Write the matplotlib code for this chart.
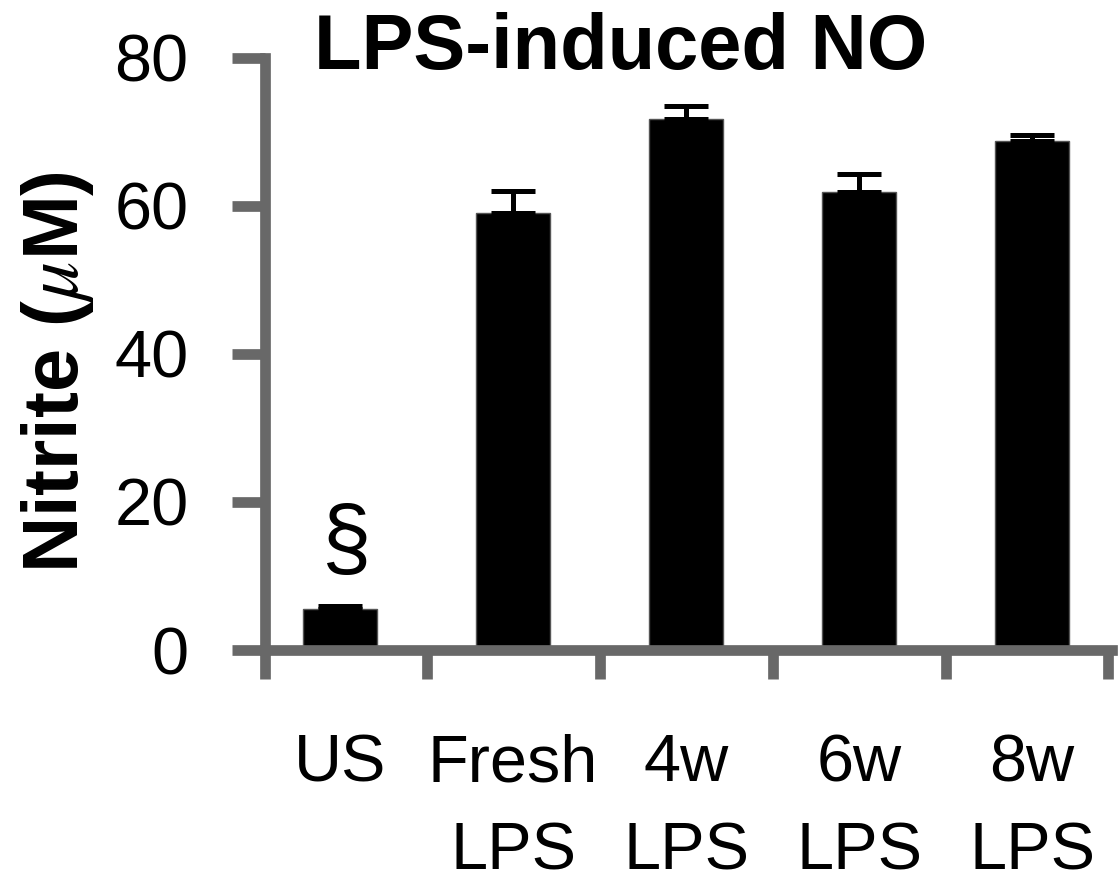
import numpy as np
import matplotlib
matplotlib.use('Agg')
import matplotlib.pyplot as plt

plt.rcParams['font.family'] = ['Liberation Sans', 'DejaVu Sans']
plt.rcParams['mathtext.fontset'] = 'stix'

# data
groups = ['US', 'Fresh\nLPS', '4w\nLPS', '6w\nLPS', '8w\nLPS']
nitrite = [5.5, 59.0, 71.7, 61.8, 68.7]
nitrite_err = [0.4, 3.0, 1.8, 2.5, 0.9]
marks = ['§', '', '', '', '']

axis_grey = '#686868'

fig = plt.figure(figsize=(11.2, 8.85), dpi=100)
ax = fig.add_axes([0.2366, 0.2655, 0.756, 0.6695])

x = np.arange(len(groups))
ax.bar(x, nitrite, width=0.43, color='black', edgecolor='#555555', linewidth=1, zorder=1)
ax.errorbar(x, nitrite, yerr=[np.zeros(len(x)), nitrite_err], fmt='none',
            ecolor='black', elinewidth=3.6, capsize=16, capthick=3.6, zorder=1)

for xi, v, e, m in zip(x, nitrite, nitrite_err, marks):
    if m:
        ax.text(xi + 0.03, v + e + 8.3, m, ha='center', va='center', fontsize=64)

ax.set_xlim(-0.434, 4.46)
ax.set_ylim(0, 80)

for s in ['top', 'right']:
    ax.spines[s].set_visible(False)
for s in ['left', 'bottom']:
    ax.spines[s].set_linewidth(7.7)
    ax.spines[s].set_color(axis_grey)

ax.set_yticks([0, 20, 40, 60, 80])
ax.tick_params(axis='y', direction='out', length=24, width=7.7, color=axis_grey,
               labelsize=48, pad=31)

# major ticks between groups, labels under the bars
bounds = [-0.434] + list(x[:-1] + 0.5) + [4.44]
ax.set_xticks(bounds)
ax.set_xticklabels([])
ax.tick_params(axis='x', which='major', direction='out', length=21, width=7.7,
               color=axis_grey)
ax.set_xticks(x, minor=True)
ax.set_xticklabels(groups, minor=True, linespacing=1.55)
ax.tick_params(axis='x', which='minor', length=0, labelsize=48, pad=60)

ax.set_ylabel(r'Nitrite ($\mu$M)', fontsize=56, fontweight='bold')
ax.yaxis.set_label_coords(-0.20, 0.469)
fig.text(0.5545, 1 - 69 / 885, 'LPS-induced NO', fontsize=56, fontweight='bold',
         ha='center', va='baseline')

fig.savefig('out.png', dpi=100)
